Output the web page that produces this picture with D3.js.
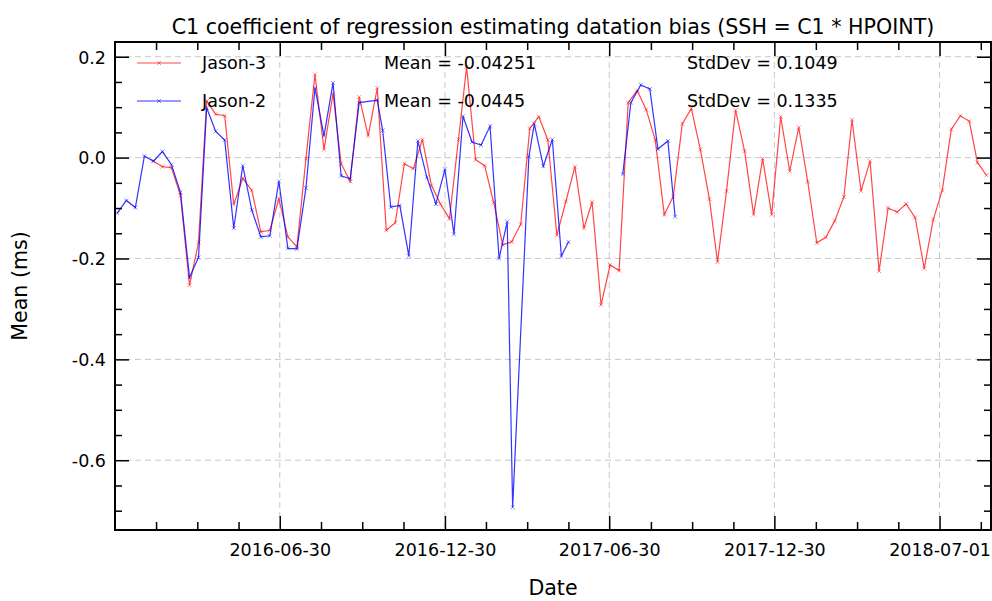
<!DOCTYPE html>
<html>
<head>
<meta charset="utf-8">
<script src="https://cdn.jsdelivr.net/npm/d3@7"></script>
<style>
  body { margin: 0; background: #fff; }
  svg text { font-family: "DejaVu Sans", sans-serif; fill: #000; }
</style>
</head>
<body>
<svg id="chart" width="992" height="601"></svg>
<script>
// Jason-3 (red) cycle dates and C1 values
var jason3Dates = [
  "2016-02-11", "2016-02-21", "2016-03-02", "2016-03-12", "2016-03-22", "2016-04-01", "2016-04-10", "2016-04-20", "2016-04-30", "2016-05-10",
  "2016-05-20", "2016-05-30", "2016-06-09", "2016-06-19", "2016-06-29", "2016-07-09", "2016-07-19", "2016-07-29", "2016-08-08", "2016-08-18",
  "2016-08-28", "2016-09-06", "2016-09-16", "2016-09-26", "2016-10-06", "2016-10-16", "2016-10-26", "2016-11-05", "2016-11-15", "2016-11-25",
  "2016-12-05", "2016-12-15", "2016-12-25", "2017-01-04", "2017-01-14", "2017-01-23", "2017-02-02", "2017-02-12", "2017-02-22", "2017-03-04",
  "2017-03-14", "2017-03-24", "2017-04-03", "2017-04-13", "2017-04-23", "2017-05-03", "2017-05-13", "2017-05-23", "2017-06-02", "2017-06-11",
  "2017-06-21", "2017-07-01", "2017-07-11", "2017-07-21", "2017-07-31", "2017-08-10", "2017-08-20", "2017-08-30", "2017-09-09", "2017-09-19",
  "2017-09-29", "2017-10-09", "2017-10-19", "2017-10-28", "2017-11-07", "2017-11-17", "2017-11-27", "2017-12-07", "2017-12-17", "2017-12-27",
  "2018-01-06", "2018-01-16", "2018-01-26", "2018-02-05", "2018-02-15", "2018-02-25", "2018-03-07", "2018-03-17", "2018-03-26", "2018-04-05",
  "2018-04-15", "2018-04-25", "2018-05-05", "2018-05-15", "2018-05-25", "2018-06-04", "2018-06-14", "2018-06-24", "2018-07-04", "2018-07-14",
  "2018-07-24", "2018-08-03", "2018-08-12", "2018-08-22"
];
var jason3Values = [
  -0.007, -0.018, -0.020, -0.075, -0.253, -0.168, 0.112, 0.086, 0.083, -0.093,
  -0.041, -0.065, -0.147, -0.144, -0.082, -0.157, -0.177, -0.002, 0.165, 0.016,
  0.127, -0.012, -0.047, 0.120, 0.043, 0.138, -0.144, -0.129, -0.012, -0.022,
  0.036, -0.055, -0.092, -0.121, 0.036, 0.180, -0.004, -0.016, -0.089, -0.173,
  -0.167, -0.132, 0.058, 0.081, 0.035, -0.154, -0.087, -0.018, -0.140, -0.088,
  -0.292, -0.213, -0.224, 0.109, 0.133, 0.095, 0.035, -0.113, -0.077, 0.067,
  0.097, 0.016, -0.082, -0.207, -0.066, 0.094, 0.013, -0.113, -0.002, -0.113,
  0.081, -0.027, 0.060, -0.048, -0.169, -0.158, -0.125, -0.078, 0.075, -0.066,
  -0.007, -0.225, -0.100, -0.108, -0.092, -0.119, -0.220, -0.123, -0.065, 0.056,
  0.083, 0.072, -0.010, -0.035
];

// Jason-2 (blue); null = no data, line is broken there
var jason2Dates = [
  "2016-01-02", "2016-01-12", "2016-01-22", "2016-02-01", "2016-02-11", "2016-02-21", "2016-03-02", "2016-03-12", "2016-03-22", "2016-04-01",
  "2016-04-10", "2016-04-20", "2016-04-30", "2016-05-10", "2016-05-20", "2016-05-30", "2016-06-09", "2016-06-19", "2016-06-29", "2016-07-09",
  "2016-07-19", "2016-07-29", "2016-08-08", "2016-08-18", "2016-08-28", "2016-09-06", "2016-09-16", "2016-09-26", "2016-10-16", "2016-10-22",
  "2016-10-31", "2016-11-10", "2016-11-20", "2016-11-30", "2016-12-10", "2016-12-20", "2016-12-30", "2017-01-09", "2017-01-19", "2017-01-29",
  "2017-02-08", "2017-02-18", "2017-02-28", "2017-03-09", "2017-03-15", "2017-04-02", "2017-04-08", "2017-04-18", "2017-04-28", "2017-05-08",
  "2017-05-16", "2017-06-15", "2017-07-15", "2017-07-24", "2017-08-04", "2017-08-14", "2017-08-23", "2017-09-03", "2017-09-11"
];
var jason2Values = [
  -0.110, -0.085, -0.099, 0.003, -0.007, 0.012, -0.014, -0.069, -0.237, -0.198,
  0.099, 0.052, 0.035, -0.140, -0.016, -0.104, -0.157, -0.155, -0.047, -0.180,
  -0.181, -0.060, 0.138, 0.043, 0.148, -0.036, -0.042, 0.109, 0.114, 0.054,
  -0.098, -0.095, -0.195, 0.033, -0.039, -0.092, -0.023, -0.152, 0.082, 0.031,
  0.025, 0.062, -0.200, -0.127, -0.693, 0.002, 0.067, -0.017, 0.036, -0.195,
  -0.167, null, -0.033, 0.109, 0.144, 0.136, 0.017, 0.033, -0.117
];

var xTickLabels = ["2016-06-30", "2016-12-30", "2017-06-30", "2017-12-30", "2018-07-01"];
var yTickValues = [0.2, 0.0, -0.2, -0.4, -0.6];

var legendNames = ["Jason-3", "Jason-2"];
var legendColors = ["#ff0000", "#0000ff"];
var legendMeans = ["-0.04251", "-0.0445"];
var legendStdDevs = ["0.1049", "0.1335"];

var width = 992;
var height = 601;
var margin = { top: 42, right: 1, bottom: 71, left: 115 };

var svg = d3.select('#chart');
var parseDate = d3.utcParse("%Y-%m-%d");

var x = d3.scaleUtc()
  .domain([parseDate("2015-12-31"), parseDate("2018-08-27")])
  .range([margin.left + 0.5, width - margin.right]);
var y = d3.scaleLinear()
  .domain([-0.7383, 0.2292])
  .range([height - margin.bottom, margin.top]);

var x0 = margin.left, x1 = width - margin.right;
var y0 = margin.top, y1 = height - margin.bottom;

var majorDates = xTickLabels.map(parseDate);

// minor x ticks: 3 between each pair of majors, extended to the edges
var step = (majorDates[majorDates.length - 1] - majorDates[0]) / (majorDates.length - 1);
var minorDates = [];
for (var k = -8; k < 24; k++) {
  var t = new Date(+majorDates[0] + k * step / 4);
  if (k % 4 != 0 && t >= x.domain()[0] && t <= x.domain()[1]) minorDates.push(t);
}
var minorY = d3.range(-0.7, 0.21, 0.05).filter(function (d) {
  return Math.abs(Math.round(d * 20) % 4) != 0;
});

// grid
var grid = svg.append('g')
  .attr('stroke', '#c8c8c8')
  .attr('stroke-width', 1)
  .attr('stroke-dasharray', '6,4');
grid.selectAll('.gx').data(majorDates).enter().append('line')
  .attr('x1', d => x(d)).attr('x2', d => x(d))
  .attr('y1', y0).attr('y2', y1);
grid.selectAll('.gy').data(yTickValues).enter().append('line')
  .attr('x1', x0).attr('x2', x1)
  .attr('y1', d => y(d)).attr('y2', d => y(d));

// series
var series = [
  { name: legendNames[0], color: legendColors[0], opacity: 0.72, data: jason3Dates.map(function (d, i) { return { date: parseDate(d), value: jason3Values[i] }; }) },
  { name: legendNames[1], color: legendColors[1], opacity: 0.8, data: jason2Dates.map(function (d, i) { return { date: parseDate(d), value: jason2Values[i] }; }) }
];

var line = d3.line()
  .defined(d => d.value !== null)
  .x(d => x(d.date))
  .y(d => y(d.value));

var marker = "M-2,-2L2,2M-2,2L2,-2";

series.forEach(function (s) {
  var g = svg.append('g');
  g.append('path')
    .datum(s.data)
    .attr('fill', 'none')
    .attr('stroke', s.color)
    .attr('stroke-opacity', s.opacity)
    .attr('stroke-width', 1.2)
    .attr('d', line);
  g.selectAll('path.m')
    .data(s.data.filter(d => d.value !== null))
    .enter().append('path')
    .attr('class', 'm')
    .attr('d', marker)
    .attr('transform', d => 'translate(' + x(d.date) + ',' + y(d.value) + ')')
    .attr('fill', 'none')
    .attr('stroke', s.color)
    .attr('stroke-opacity', 0.45)
    .attr('stroke-width', 1);
});

// axes, ticks pointing inward
function styleAxis(g) {
  g.select('.domain').remove();
  g.selectAll('.tick line').attr('stroke', '#000').attr('stroke-width', 1.5);
  g.selectAll('.tick text').style('font-size', '17.5px').attr('fill', '#000');
}

svg.append('g')
  .attr('transform', 'translate(' + x0 + ',0)')
  .call(d3.axisLeft(y).tickValues(yTickValues).tickSize(-14).tickSizeOuter(0).tickPadding(9)
    .tickFormat(d => d.toFixed(1)))
  .call(styleAxis)
  .selectAll('.tick text').attr('dy', '0.36em');
svg.append('g')
  .attr('transform', 'translate(' + x0 + ',0)')
  .call(d3.axisLeft(y).tickValues(minorY).tickSize(-7).tickSizeOuter(0).tickFormat(''))
  .call(styleAxis);
svg.append('g')
  .attr('transform', 'translate(' + x1 + ',0)')
  .call(d3.axisRight(y).tickValues(yTickValues).tickSize(-14).tickSizeOuter(0).tickFormat(''))
  .call(styleAxis);
svg.append('g')
  .attr('transform', 'translate(' + x1 + ',0)')
  .call(d3.axisRight(y).tickValues(minorY).tickSize(-7).tickSizeOuter(0).tickFormat(''))
  .call(styleAxis);

svg.append('g')
  .attr('transform', 'translate(0,' + y1 + ')')
  .call(d3.axisBottom(x).tickValues(majorDates).tickSize(-14).tickSizeOuter(0).tickPadding(14)
    .tickFormat((d, i) => xTickLabels[i]))
  .call(styleAxis);
svg.append('g')
  .attr('transform', 'translate(0,' + y1 + ')')
  .call(d3.axisBottom(x).tickValues(minorDates).tickSize(-8).tickSizeOuter(0).tickFormat(''))
  .call(styleAxis);
svg.append('g')
  .attr('transform', 'translate(0,' + y0 + ')')
  .call(d3.axisTop(x).tickValues(majorDates).tickSize(-14).tickSizeOuter(0).tickFormat(''))
  .call(styleAxis);
svg.append('g')
  .attr('transform', 'translate(0,' + y0 + ')')
  .call(d3.axisTop(x).tickValues(minorDates).tickSize(-8).tickSizeOuter(0).tickFormat(''))
  .call(styleAxis);

// frame
svg.append('rect')
  .attr('x', x0).attr('y', y0)
  .attr('width', x1 - x0).attr('height', y1 - y0)
  .attr('fill', 'none')
  .attr('stroke', '#000')
  .attr('stroke-width', 2);

// legend (no box)
var legend = svg.append('g');
legendNames.forEach(function (name, i) {
  var ly = 63 + i * 38;
  legend.append('line')
    .attr('x1', 137).attr('x2', 181).attr('y1', ly).attr('y2', ly)
    .attr('stroke', legendColors[i]).attr('stroke-opacity', series[i].opacity).attr('stroke-width', 1.2);
  legend.append('path')
    .attr('d', marker)
    .attr('transform', 'translate(159,' + ly + ')')
    .attr('fill', 'none').attr('stroke', legendColors[i]).attr('stroke-opacity', 0.45);
  legend.append('text').attr('x', 202).attr('y', ly).attr('dy', '0.36em')
    .style('font-size', '17.5px').text(name);
  legend.append('text').attr('x', 384).attr('y', ly).attr('dy', '0.36em')
    .style('font-size', '17.5px').text('Mean = ' + legendMeans[i]);
  legend.append('text').attr('x', 687).attr('y', ly).attr('dy', '0.36em')
    .style('font-size', '17.5px').text('StdDev = ' + legendStdDevs[i]);
});

// titles
svg.append('text')
  .attr('x', (x0 + x1) / 2).attr('y', 34)
  .attr('text-anchor', 'middle')
  .style('font-size', '20.6px')
  .text('C1 coefficient of regression estimating datation bias (SSH = C1 * HPOINT)');
svg.append('text')
  .attr('x', (x0 + x1) / 2).attr('y', 595)
  .attr('text-anchor', 'middle')
  .style('font-size', '20.6px')
  .text('Date');
svg.append('text')
  .attr('transform', 'translate(27,' + (y0 + y1) / 2 + ') rotate(-90)')
  .attr('text-anchor', 'middle')
  .style('font-size', '20.6px')
  .text('Mean (ms)');
</script>
</body>
</html>
